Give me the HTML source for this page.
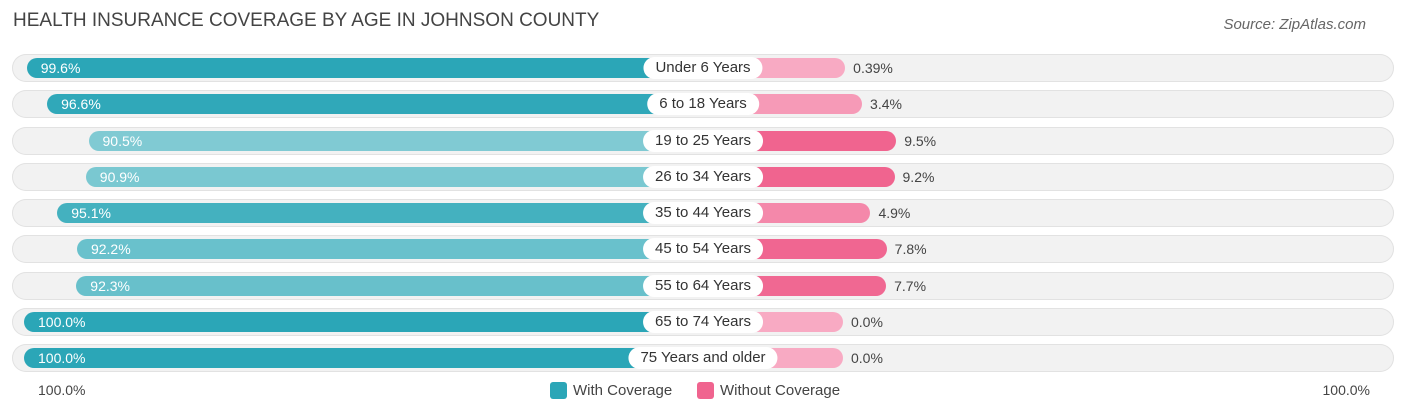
<!DOCTYPE html>
<html><head><meta charset="utf-8"><style>
body{margin:0;background:#fff;font-family:"Liberation Sans",sans-serif;}
#c{position:relative;width:1406px;height:415px;overflow:hidden}
.t{position:absolute;left:13px;top:10px;font-size:19px;color:#444}
.s{position:absolute;right:40px;top:16px;font-size:15px;color:#666;font-style:italic}
.row{position:absolute;left:12px;width:1382px;height:28px;border-radius:14px;background:#f2f2f2;box-shadow:inset 0 0 0 1px #e2e2e2}
.bar{position:absolute;height:20px;border-radius:10px}
.lv{position:absolute;color:#fff;font-size:14px;line-height:20px}
.rv{position:absolute;color:#444;font-size:14px;line-height:20px}
.lab{position:absolute;height:22px;line-height:22px;background:#fff;border-radius:11px;font-size:15px;color:#333;text-align:center;padding:0 12px;transform:translateX(-50%);white-space:nowrap}
.ax{position:absolute;top:382px;font-size:14px;color:#444}
.leg{position:absolute;top:382px;font-size:15px;color:#444;display:flex;align-items:center}
.sw{width:17px;height:17px;border-radius:3px;margin-right:6px}
</style></head><body>
<div id="c">
<div class="t">HEALTH INSURANCE COVERAGE BY AGE IN JOHNSON COUNTY</div>
<div class="s">Source: ZipAtlas.com</div>
<div id="rows"></div>
<div class="ax" style="left:38px">100.0%</div>
<div class="ax" style="right:36px">100.0%</div>
<div class="leg" style="left:550px"><div class="sw" style="background:#2ba6b7"></div>With Coverage</div>
<div class="leg" style="left:697px"><div class="sw" style="background:#f0648f"></div>Without Coverage</div>
</div>
<script>
const categories=["Under 6 Years","6 to 18 Years","19 to 25 Years","26 to 34 Years","35 to 44 Years","45 to 54 Years","55 to 64 Years","65 to 74 Years","75 Years and older"];
const withCov=[99.6,96.6,90.5,90.9,95.1,92.2,92.3,100.0,100.0];
const withoutCov=[0.39,3.4,9.5,9.2,4.9,7.8,7.7,0.0,0.0];
const withLabels=["99.6%","96.6%","90.5%","90.9%","95.1%","92.2%","92.3%","100.0%","100.0%"];
const withoutLabels=["0.39%","3.4%","9.5%","9.2%","4.9%","7.8%","7.7%","0.0%","0.0%"];
const cx=703, lScale=6.79, rBase=140, rScale=5.6;
function mix(a,b,t){t=Math.max(0,Math.min(1,t));return 'rgb('+a.map((v,i)=>Math.round(v+(b[i]-v)*t)).join(',')+')';}
const root=document.getElementById('rows');
categories.forEach((cat,i)=>{
  const cy=68+i*36.25;
  const r=document.createElement('div');r.className='row';r.style.top=(cy-14)+'px';
  
  
  root.appendChild(r);
  const lw=withCov[i]*lScale;
  const lb=document.createElement('div');lb.className='bar';
  lb.style.left=(cx-lw)+'px';lb.style.width=lw+'px';lb.style.top=(cy-10)+'px';
  lb.style.background=mix([134,205,213],[43,166,183],(withCov[i]-90)/7);
  
  
  root.appendChild(lb);
  const lv=document.createElement('div');lv.className='lv';lv.textContent=withLabels[i];
  lv.style.left=(cx-lw+14)+'px';lv.style.top=(cy-10)+'px';
  
  
  root.appendChild(lv);
  const rw=rBase+withoutCov[i]*rScale;
  const rb=document.createElement('div');rb.className='bar';
  rb.style.left=cx+'px';rb.style.width=rw+'px';rb.style.top=(cy-10)+'px';
  rb.style.background=mix([248,170,195],[240,100,143],(withoutCov[i]-2)/6);
  
  
  root.appendChild(rb);
  const rv=document.createElement('div');rv.className='rv';rv.textContent=withoutLabels[i];
  rv.style.left=(cx+rw+8)+'px';rv.style.top=(cy-10)+'px';
  
  
  root.appendChild(rv);
  const lab=document.createElement('div');lab.className='lab';lab.textContent=cat;
  lab.style.left=cx+'px';lab.style.top=(cy-11)+'px';
  
  
  root.appendChild(lab);
});
</script>
</body></html>
